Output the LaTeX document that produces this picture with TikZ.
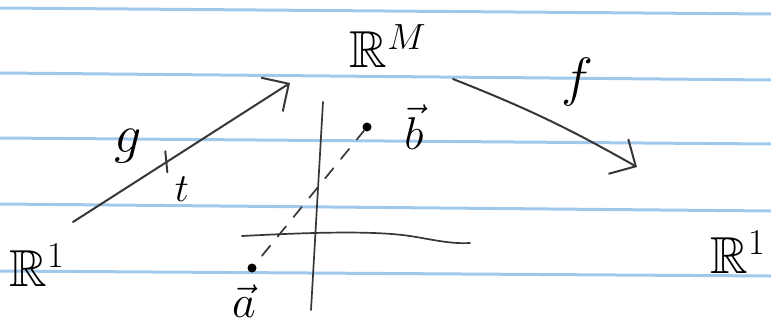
\RequirePackage{fix-cm}
\documentclass[tikz,border=0pt]{standalone}
\usepackage{amssymb}
\usetikzlibrary{arrows.meta,calc}

\definecolor{paper}{RGB}{160,200,234}
\definecolor{pencil}{RGB}{55,55,55}

\begin{document}
\begin{tikzpicture}[
  x=1pt, y=-1pt,
  >={Straight Barb[length=20pt,width=40pt]},
  every node/.style={inner sep=0pt},
  spacelbl/.style={font=\fontsize{52}{60}\selectfont},
  fname/.style={font=\fontsize{54}{62}\selectfont},
  vlbl/.style={font=\fontsize{46}{54}\selectfont},
  ruled/.style={line width=3pt, color=paper},
  ink/.style={line width=2pt, color=pencil, line cap=round},
  axis/.style={line width=1.7pt, color=pencil, line cap=round},
  map/.style={->, ink},
  dotnode/.style={circle, fill=black, minimum size=9pt}
]
\useasboundingbox (0,0) rectangle (771,327);

% ruled paper
\foreach \yl/\yr in {8/14, 73/80, 138/144, 204/211, 271/276}
  \draw[ruled] (0,\yl) -- (771,\yr);

% spaces
\node[spacelbl] (R1) at (37,265) {$\mathbb{R}^1$};
\node[spacelbl] (RM) at (388,46) {$\mathbb{R}^M$};
\node[spacelbl] (R1r) at (738,252) {$\mathbb{R}^1$};

% maps
\coordinate (gs) at (73,222);
\coordinate (ge) at (290,83);
\coordinate (fs) at (453,79);
\coordinate (fe) at (637,167);
\draw[map] (gs) -- (ge);
\draw[map] (fs) to[bend left=4] (fe);
\coordinate (tk) at ($(gs)!0.43!(ge)$);
\draw[ink] ([shift={(-1,-11)}]tk) -- ([shift={(1,10)}]tk);

\node[fname] (g) at (128,146) {$g$};
\node[fname, font=\fontsize{40}{48}\selectfont] (t) at (182,189) {$t$};
\node[fname] (f) at (577,82) {$f$};

% axes in R^M
\coordinate (vt) at (323,102);
\coordinate (vb) at (311,310);
\coordinate (hl) at (242,236);
\coordinate (hr) at (470,243);
\draw[axis] (vt) -- (vb);
\draw[axis] (hl) .. controls (300,233) and (370,230) .. (410,236)
  .. controls (435,240) and (450,244) .. (hr);

% points a and b
\node[dotnode] (pa) at (252,268) {};
\node[dotnode] (pb) at (367,127) {};
\draw[axis, dash pattern=on 13pt off 12pt, dash phase=14pt] (pa) -- (pb);
\node[vlbl] (la) at (244,301) {$\vec{a}$};
\node[vlbl] (lb) at (414,127) {$\vec{b}$};
\end{tikzpicture}
\end{document}
